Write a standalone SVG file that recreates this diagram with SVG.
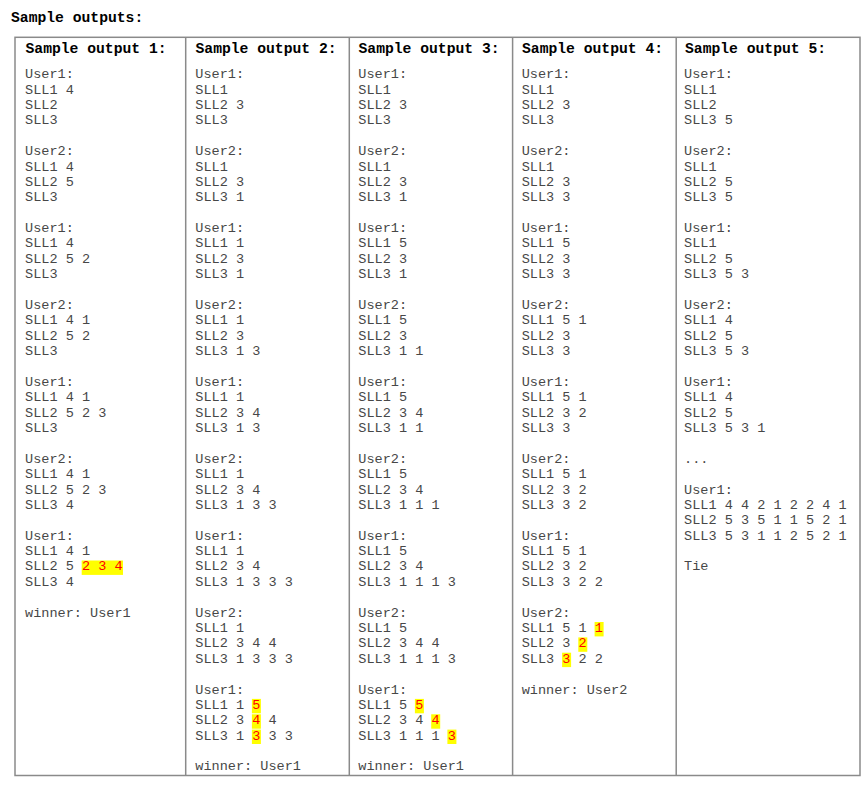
<svg xmlns="http://www.w3.org/2000/svg" width="866" height="786" viewBox="0 0 866 786">
<style>
.title{font-family:"Liberation Mono","Courier New",monospace;font-weight:bold;font-size:14.7px;fill:#000}
.body{font-family:"Liberation Mono","Courier New",monospace;font-size:13.55px;fill:#474747}
.red{fill:#ff0000}
.hl{fill:#ffff00}
.grid{stroke:#8a8a8a;stroke-width:1.5;fill:none}
</style>
<rect width="866" height="786" fill="#ffffff"/>
<text class="title" x="11" y="22">Sample outputs:</text>
<g id="table-grid">
<rect class="grid" x="15" y="37.3" width="845" height="738.2"/>
<line class="grid" x1="185.7" y1="37.3" x2="185.7" y2="775.5"/>
<line class="grid" x1="349.3" y1="37.3" x2="349.3" y2="775.5"/>
<line class="grid" x1="512.6" y1="37.3" x2="512.6" y2="775.5"/>
<line class="grid" x1="676.2" y1="37.3" x2="676.2" y2="775.5"/>
</g>
<g id="connectors"/>
<g id="col1">
<rect class="hl" x="81.7" y="560.5" width="41.3" height="14.4"/>
<text class="title" x="25.5" y="53">Sample output 1:</text>
<text class="body">
<tspan x="25" y="78.3">User1:</tspan>
<tspan x="25" dy="15.38">SLL1 4</tspan>
<tspan x="25" dy="15.38">SLL2</tspan>
<tspan x="25" dy="15.38">SLL3</tspan>
<tspan x="25" dy="30.76">User2:</tspan>
<tspan x="25" dy="15.38">SLL1 4</tspan>
<tspan x="25" dy="15.38">SLL2 5</tspan>
<tspan x="25" dy="15.38">SLL3</tspan>
<tspan x="25" dy="30.76">User1:</tspan>
<tspan x="25" dy="15.38">SLL1 4</tspan>
<tspan x="25" dy="15.38">SLL2 5 2</tspan>
<tspan x="25" dy="15.38">SLL3</tspan>
<tspan x="25" dy="30.76">User2:</tspan>
<tspan x="25" dy="15.38">SLL1 4 1</tspan>
<tspan x="25" dy="15.38">SLL2 5 2</tspan>
<tspan x="25" dy="15.38">SLL3</tspan>
<tspan x="25" dy="30.76">User1:</tspan>
<tspan x="25" dy="15.38">SLL1 4 1</tspan>
<tspan x="25" dy="15.38">SLL2 5 2 3</tspan>
<tspan x="25" dy="15.38">SLL3</tspan>
<tspan x="25" dy="30.76">User2:</tspan>
<tspan x="25" dy="15.38">SLL1 4 1</tspan>
<tspan x="25" dy="15.38">SLL2 5 2 3</tspan>
<tspan x="25" dy="15.38">SLL3 4</tspan>
<tspan x="25" dy="30.76">User1:</tspan>
<tspan x="25" dy="15.38">SLL1 4 1</tspan>
<tspan x="25" dy="15.38">SLL2 5 <tspan class="red">2 3 4</tspan></tspan>
<tspan x="25" dy="15.38">SLL3 4</tspan>
<tspan x="25" dy="30.76">winner: User1</tspan>
</text>
</g>
<g id="col2">
<rect class="hl" x="251.9" y="698.9" width="9" height="14.4"/>
<rect class="hl" x="251.9" y="714.3" width="9" height="14.4"/>
<rect class="hl" x="251.9" y="729.6" width="9" height="14.4"/>
<text class="title" x="195.5" y="53">Sample output 2:</text>
<text class="body">
<tspan x="195.3" y="78.3">User1:</tspan>
<tspan x="195.3" dy="15.38">SLL1</tspan>
<tspan x="195.3" dy="15.38">SLL2 3</tspan>
<tspan x="195.3" dy="15.38">SLL3</tspan>
<tspan x="195.3" dy="30.76">User2:</tspan>
<tspan x="195.3" dy="15.38">SLL1</tspan>
<tspan x="195.3" dy="15.38">SLL2 3</tspan>
<tspan x="195.3" dy="15.38">SLL3 1</tspan>
<tspan x="195.3" dy="30.76">User1:</tspan>
<tspan x="195.3" dy="15.38">SLL1 1</tspan>
<tspan x="195.3" dy="15.38">SLL2 3</tspan>
<tspan x="195.3" dy="15.38">SLL3 1</tspan>
<tspan x="195.3" dy="30.76">User2:</tspan>
<tspan x="195.3" dy="15.38">SLL1 1</tspan>
<tspan x="195.3" dy="15.38">SLL2 3</tspan>
<tspan x="195.3" dy="15.38">SLL3 1 3</tspan>
<tspan x="195.3" dy="30.76">User1:</tspan>
<tspan x="195.3" dy="15.38">SLL1 1</tspan>
<tspan x="195.3" dy="15.38">SLL2 3 4</tspan>
<tspan x="195.3" dy="15.38">SLL3 1 3</tspan>
<tspan x="195.3" dy="30.76">User2:</tspan>
<tspan x="195.3" dy="15.38">SLL1 1</tspan>
<tspan x="195.3" dy="15.38">SLL2 3 4</tspan>
<tspan x="195.3" dy="15.38">SLL3 1 3 3</tspan>
<tspan x="195.3" dy="30.76">User1:</tspan>
<tspan x="195.3" dy="15.38">SLL1 1</tspan>
<tspan x="195.3" dy="15.38">SLL2 3 4</tspan>
<tspan x="195.3" dy="15.38">SLL3 1 3 3 3</tspan>
<tspan x="195.3" dy="30.76">User2:</tspan>
<tspan x="195.3" dy="15.38">SLL1 1</tspan>
<tspan x="195.3" dy="15.38">SLL2 3 4 4</tspan>
<tspan x="195.3" dy="15.38">SLL3 1 3 3 3</tspan>
<tspan x="195.3" dy="30.76">User1:</tspan>
<tspan x="195.3" dy="15.38">SLL1 1 <tspan class="red">5</tspan></tspan>
<tspan x="195.3" dy="15.38">SLL2 3 <tspan class="red">4</tspan> 4</tspan>
<tspan x="195.3" dy="15.38">SLL3 1 <tspan class="red">3</tspan> 3 3</tspan>
<tspan x="195.3" dy="30.76">winner: User1</tspan>
</text>
</g>
<g id="col3">
<rect class="hl" x="414.9" y="698.9" width="9" height="14.4"/>
<rect class="hl" x="431.2" y="714.3" width="9" height="14.4"/>
<rect class="hl" x="447.4" y="729.6" width="9" height="14.4"/>
<text class="title" x="358.5" y="53">Sample output 3:</text>
<text class="body">
<tspan x="358.3" y="78.3">User1:</tspan>
<tspan x="358.3" dy="15.38">SLL1</tspan>
<tspan x="358.3" dy="15.38">SLL2 3</tspan>
<tspan x="358.3" dy="15.38">SLL3</tspan>
<tspan x="358.3" dy="30.76">User2:</tspan>
<tspan x="358.3" dy="15.38">SLL1</tspan>
<tspan x="358.3" dy="15.38">SLL2 3</tspan>
<tspan x="358.3" dy="15.38">SLL3 1</tspan>
<tspan x="358.3" dy="30.76">User1:</tspan>
<tspan x="358.3" dy="15.38">SLL1 5</tspan>
<tspan x="358.3" dy="15.38">SLL2 3</tspan>
<tspan x="358.3" dy="15.38">SLL3 1</tspan>
<tspan x="358.3" dy="30.76">User2:</tspan>
<tspan x="358.3" dy="15.38">SLL1 5</tspan>
<tspan x="358.3" dy="15.38">SLL2 3</tspan>
<tspan x="358.3" dy="15.38">SLL3 1 1</tspan>
<tspan x="358.3" dy="30.76">User1:</tspan>
<tspan x="358.3" dy="15.38">SLL1 5</tspan>
<tspan x="358.3" dy="15.38">SLL2 3 4</tspan>
<tspan x="358.3" dy="15.38">SLL3 1 1</tspan>
<tspan x="358.3" dy="30.76">User2:</tspan>
<tspan x="358.3" dy="15.38">SLL1 5</tspan>
<tspan x="358.3" dy="15.38">SLL2 3 4</tspan>
<tspan x="358.3" dy="15.38">SLL3 1 1 1</tspan>
<tspan x="358.3" dy="30.76">User1:</tspan>
<tspan x="358.3" dy="15.38">SLL1 5</tspan>
<tspan x="358.3" dy="15.38">SLL2 3 4</tspan>
<tspan x="358.3" dy="15.38">SLL3 1 1 1 3</tspan>
<tspan x="358.3" dy="30.76">User2:</tspan>
<tspan x="358.3" dy="15.38">SLL1 5</tspan>
<tspan x="358.3" dy="15.38">SLL2 3 4 4</tspan>
<tspan x="358.3" dy="15.38">SLL3 1 1 1 3</tspan>
<tspan x="358.3" dy="30.76">User1:</tspan>
<tspan x="358.3" dy="15.38">SLL1 5 <tspan class="red">5</tspan></tspan>
<tspan x="358.3" dy="15.38">SLL2 3 4 <tspan class="red">4</tspan></tspan>
<tspan x="358.3" dy="15.38">SLL3 1 1 1 <tspan class="red">3</tspan></tspan>
<tspan x="358.3" dy="30.76">winner: User1</tspan>
</text>
</g>
<g id="col4">
<rect class="hl" x="594.6" y="622" width="9" height="14.4"/>
<rect class="hl" x="578.3" y="637.4" width="9" height="14.4"/>
<rect class="hl" x="562.1" y="652.7" width="9" height="14.4"/>
<text class="title" x="522" y="53">Sample output 4:</text>
<text class="body">
<tspan x="521.7" y="78.3">User1:</tspan>
<tspan x="521.7" dy="15.38">SLL1</tspan>
<tspan x="521.7" dy="15.38">SLL2 3</tspan>
<tspan x="521.7" dy="15.38">SLL3</tspan>
<tspan x="521.7" dy="30.76">User2:</tspan>
<tspan x="521.7" dy="15.38">SLL1</tspan>
<tspan x="521.7" dy="15.38">SLL2 3</tspan>
<tspan x="521.7" dy="15.38">SLL3 3</tspan>
<tspan x="521.7" dy="30.76">User1:</tspan>
<tspan x="521.7" dy="15.38">SLL1 5</tspan>
<tspan x="521.7" dy="15.38">SLL2 3</tspan>
<tspan x="521.7" dy="15.38">SLL3 3</tspan>
<tspan x="521.7" dy="30.76">User2:</tspan>
<tspan x="521.7" dy="15.38">SLL1 5 1</tspan>
<tspan x="521.7" dy="15.38">SLL2 3</tspan>
<tspan x="521.7" dy="15.38">SLL3 3</tspan>
<tspan x="521.7" dy="30.76">User1:</tspan>
<tspan x="521.7" dy="15.38">SLL1 5 1</tspan>
<tspan x="521.7" dy="15.38">SLL2 3 2</tspan>
<tspan x="521.7" dy="15.38">SLL3 3</tspan>
<tspan x="521.7" dy="30.76">User2:</tspan>
<tspan x="521.7" dy="15.38">SLL1 5 1</tspan>
<tspan x="521.7" dy="15.38">SLL2 3 2</tspan>
<tspan x="521.7" dy="15.38">SLL3 3 2</tspan>
<tspan x="521.7" dy="30.76">User1:</tspan>
<tspan x="521.7" dy="15.38">SLL1 5 1</tspan>
<tspan x="521.7" dy="15.38">SLL2 3 2</tspan>
<tspan x="521.7" dy="15.38">SLL3 3 2 2</tspan>
<tspan x="521.7" dy="30.76">User2:</tspan>
<tspan x="521.7" dy="15.38">SLL1 5 1 <tspan class="red">1</tspan></tspan>
<tspan x="521.7" dy="15.38">SLL2 3 <tspan class="red">2</tspan></tspan>
<tspan x="521.7" dy="15.38">SLL3 <tspan class="red">3</tspan> 2 2</tspan>
<tspan x="521.7" dy="30.76">winner: User2</tspan>
</text>
</g>
<g id="col5">
<text class="title" x="685" y="53">Sample output 5:</text>
<text class="body">
<tspan x="684" y="78.3">User1:</tspan>
<tspan x="684" dy="15.38">SLL1</tspan>
<tspan x="684" dy="15.38">SLL2</tspan>
<tspan x="684" dy="15.38">SLL3 5</tspan>
<tspan x="684" dy="30.76">User2:</tspan>
<tspan x="684" dy="15.38">SLL1</tspan>
<tspan x="684" dy="15.38">SLL2 5</tspan>
<tspan x="684" dy="15.38">SLL3 5</tspan>
<tspan x="684" dy="30.76">User1:</tspan>
<tspan x="684" dy="15.38">SLL1</tspan>
<tspan x="684" dy="15.38">SLL2 5</tspan>
<tspan x="684" dy="15.38">SLL3 5 3</tspan>
<tspan x="684" dy="30.76">User2:</tspan>
<tspan x="684" dy="15.38">SLL1 4</tspan>
<tspan x="684" dy="15.38">SLL2 5</tspan>
<tspan x="684" dy="15.38">SLL3 5 3</tspan>
<tspan x="684" dy="30.76">User1:</tspan>
<tspan x="684" dy="15.38">SLL1 4</tspan>
<tspan x="684" dy="15.38">SLL2 5</tspan>
<tspan x="684" dy="15.38">SLL3 5 3 1</tspan>
<tspan x="684" dy="30.76">...</tspan>
<tspan x="684" dy="30.76">User1:</tspan>
<tspan x="684" dy="15.38">SLL1 4 4 2 1 2 2 4 1</tspan>
<tspan x="684" dy="15.38">SLL2 5 3 5 1 1 5 2 1</tspan>
<tspan x="684" dy="15.38">SLL3 5 3 1 1 2 5 2 1</tspan>
<tspan x="684" dy="30.76">Tie</tspan>
</text>
</g>
</svg>
